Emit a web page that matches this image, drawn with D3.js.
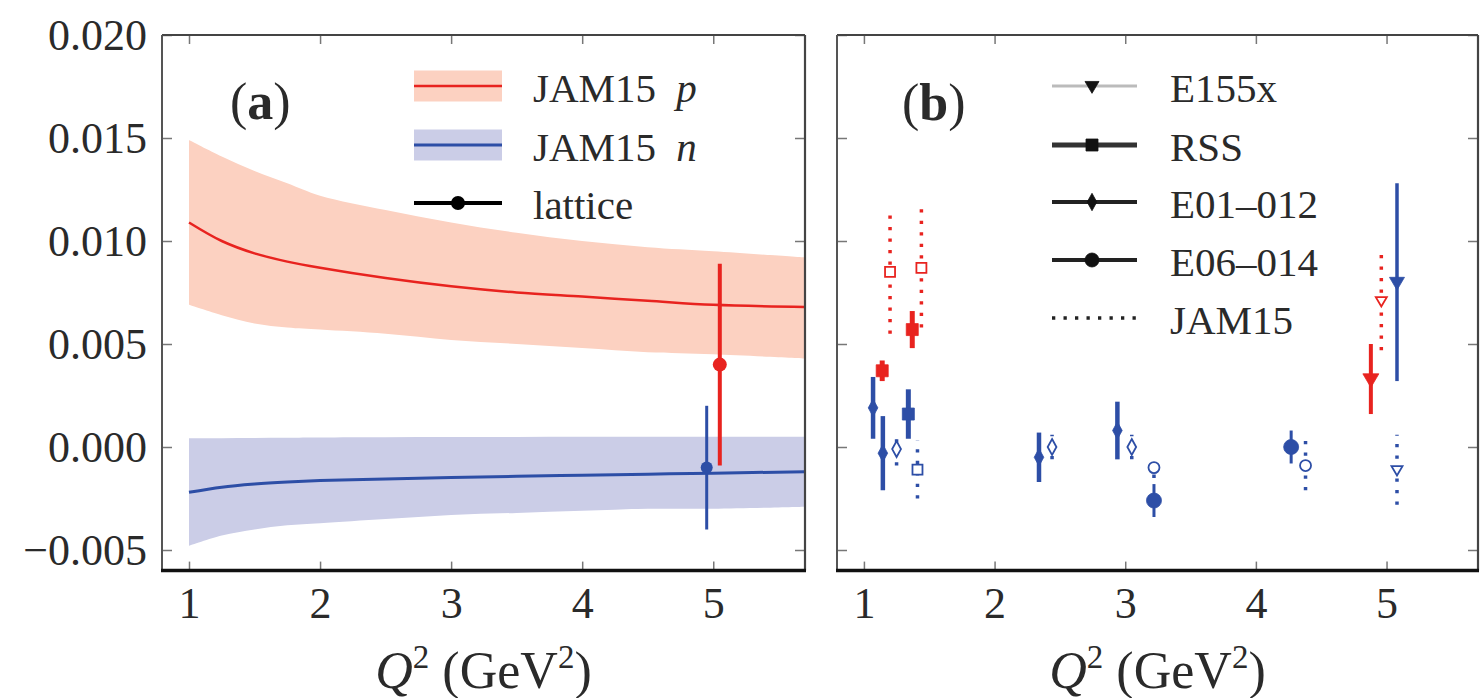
<!DOCTYPE html>
<html>
<head>
<meta charset="utf-8">
<script src="https://cdn.jsdelivr.net/npm/d3@7"></script>
<style>
  body { margin: 0; background: #fff; }
</style>
</head>
<body>
<svg id="fig" width="1480" height="698"></svg>
<script>
// ---- JAM15 bands for g2 moments (panel a) ----
const qGrid    = [1.0, 1.25, 1.5, 1.75, 2.0, 2.5, 3.0, 3.5, 4.0, 4.5, 5.0, 5.7];
const pCentral = [0.0109, 0.0100, 0.0094, 0.0090, 0.0087, 0.0082, 0.0078, 0.0075, 0.0073, 0.0071, 0.0069, 0.0068];
const pUpper   = [0.0149, 0.0141, 0.0134, 0.0128, 0.0122, 0.0115, 0.0109, 0.0104, 0.0100, 0.0097, 0.0095, 0.0092];
const pLower   = [0.0069, 0.0064, 0.0060, 0.0058, 0.0057, 0.0055, 0.0052, 0.0050, 0.0048, 0.0046, 0.0045, 0.0043];
const nCentral = [-0.0022, -0.00195, -0.0018, -0.0017, -0.00163, -0.00155, -0.00148, -0.00142, -0.00137, -0.00132, -0.00127, -0.0012];
const nUpper   = [0.00042, 0.00043, 0.00044, 0.00045, 0.00046, 0.00047, 0.00048, 0.00049, 0.0005, 0.0005, 0.0005, 0.0005];
const nLower   = [-0.0048, -0.0043, -0.0040, -0.0038, -0.0037, -0.0035, -0.0033, -0.0032, -0.0031, -0.0030, -0.0030, -0.0029];

// lattice points: [Q2, value, error]
const latticeP = [[5.05, 0.0040, 0.0049]];
const latticeN = [[4.95, -0.0010, 0.0030]];

// ---- experimental data (panel b): [Q2, value, error] ----
const e155xP   = [[4.88, 0.0033, 0.0017]];
const e155xN   = [[5.08, 0.0080, 0.0048]];
const rssP     = [[1.14, 0.0037, 0.0005], [1.37, 0.0057, 0.0009]];
const rssN     = [[1.34, 0.0016, 0.0012]];
const e01012N  = [[1.07, 0.0019, 0.0015], [1.145, -0.0003, 0.0018], [2.34, -0.0005, 0.0012], [2.94, 0.0008, 0.0014]];
const e06014N  = [[3.22, -0.0026, 0.0008], [4.27, 0.0000, 0.0008]];

// JAM15 values at the experimental kinematics
const jamRssP   = [[1.20, 0.0085, 0.0030], [1.44, 0.0087, 0.0029]];
const jamRssN   = [[1.41, -0.0011, 0.0014]];
const jamE01N   = [[1.25, -0.0001, 0.0008], [2.44, 0.0000, 0.0006], [3.05, 0.0000, 0.0006]];
const jamE06N   = [[3.22, -0.0010, 0.0005], [4.38, -0.0009, 0.0012]];
const jamE155P  = [[4.96, 0.0071, 0.0024]];
const jamE155N  = [[5.08, -0.0011, 0.0017]];

const xTicks = [1, 2, 3, 4, 5];
const yTicks = [-0.005, 0.000, 0.005, 0.010, 0.015, 0.020];
const legendA = ["JAM15", "JAM15", "lattice"];
const legendB = ["E155x", "RSS", "E01\u2013012", "E06\u2013014", "JAM15"];

const FONT = "Liberation Serif";
const TEXT_COLOR = "#2a2a2a";
const RED = "#e8231f", BLUE = "#2d4ea6";
const RED_BAND = "#fcd1c1", BLUE_BAND = "#cbcde7";

const svg = d3.select("#fig");
const plotTop = 35, plotBottom = 570.6;
const y = d3.scaleLinear().domain([-0.006, 0.020]).range([plotBottom, plotTop]);
const xDomain = [0.794, 5.70];

function styleTicks(sel) {
  sel.attr("font-family", null);
  sel.select(".domain").remove();
  sel.selectAll("line").attr("stroke", "#777").attr("stroke-width", 1.5);
  sel.selectAll("text").style("font-size", "44px");
}

function makePanel(left, right, id, showYLabels) {
  const x = d3.scaleLinear().domain(xDomain).range([left, right]);
  const g = svg.append("g");
  g.append("clipPath").attr("id", id).append("rect")
    .attr("x", left).attr("y", plotTop).attr("width", right - left).attr("height", plotBottom - plotTop);

  // tick marks point inward on all four sides; y labels only on panel a
  g.append("g").attr("transform", `translate(${left},0)`)
    .call(d3.axisLeft(y).tickValues(yTicks).tickSizeInner(-10).tickSizeOuter(0).tickPadding(15)
      .tickFormat(showYLabels ? d3.format(".3f") : ""))
    .call(styleTicks);
  g.append("g").attr("transform", `translate(${right},0)`)
    .call(d3.axisRight(y).tickValues(yTicks).tickSizeInner(-10).tickSizeOuter(0).tickFormat(""))
    .call(styleTicks);
  g.append("g").attr("transform", `translate(0,${plotBottom})`)
    .call(d3.axisBottom(x).tickValues(xTicks).tickSizeInner(-9).tickSizeOuter(0).tickPadding(16)
      .tickFormat(d3.format("d")))
    .call(styleTicks);
  g.append("g").attr("transform", `translate(0,${plotTop})`)
    .call(d3.axisTop(x).tickValues(xTicks).tickSizeInner(-9).tickSizeOuter(0).tickFormat(""))
    .call(styleTicks);

  // x label
  const xl = g.append("text").attr("x", (left + right) / 2).attr("y", 688)
    .attr("text-anchor", "middle").style("font-size", "52px");
  xl.append("tspan").attr("font-style", "italic").text("Q");
  xl.append("tspan").attr("dy", -20).style("font-size", "33px").text("2");
  xl.append("tspan").attr("dy", 20).text(" (GeV");
  xl.append("tspan").attr("dy", -20).style("font-size", "33px").text("2");
  xl.append("tspan").attr("dy", 20).text(")");

  const plot = g.append("g").attr("clip-path", `url(#${id})`);
  return { x, g, plot, left, right };
}

function drawFrame(p) {
  const fr = p.g.append("g");
  fr.append("line").attr("x1", p.left).attr("x2", p.right).attr("y1", plotTop).attr("y2", plotTop)
    .attr("stroke", "#444").attr("stroke-width", 2.2);
  fr.append("line").attr("x1", p.left).attr("x2", p.left).attr("y1", plotTop).attr("y2", plotBottom)
    .attr("stroke", "#555").attr("stroke-width", 2);
  fr.append("line").attr("x1", p.right).attr("x2", p.right).attr("y1", plotTop).attr("y2", plotBottom)
    .attr("stroke", "#444").attr("stroke-width", 2.2);
  fr.append("line").attr("x1", p.left - 1).attr("x2", p.right + 1).attr("y1", plotBottom).attr("y2", plotBottom)
    .attr("stroke", "#111").attr("stroke-width", 3.5);
}

// marker shapes
function markerPath(shape, s) {
  if (shape === "tri") return `M${-s},${-0.65 * s}L${s},${-0.65 * s}L0,${1.05 * s}Z`;
  if (shape === "sq") return `M${-s},${-s}H${s}V${s}H${-s}Z`;
  if (shape === "dia") return `M0,${-1.45 * s}L${0.8 * s},0L0,${1.45 * s}L${-0.8 * s},0Z`;
  return d3.arc()({ innerRadius: 0, outerRadius: s, startAngle: 0, endAngle: 2 * Math.PI });
}
function marker(g, shape, cx, cy, s, color, open) {
  g.append("path").attr("d", markerPath(shape, s)).attr("transform", `translate(${cx},${cy})`)
    .attr("fill", open ? "#fff" : color).attr("stroke", color).attr("stroke-width", open ? 1.8 : 0.8);
}

// ===== panel a =====
const pa = makePanel(162, 805, "clipA", true);
const curve = d3.curveCatmullRom;
const area = d3.area().x(d => pa.x(d[0])).y0(d => y(d[1])).y1(d => y(d[2])).curve(curve);
const line = d3.line().x(d => pa.x(d[0])).y(d => y(d[1])).curve(curve);
pa.plot.append("path").datum(qGrid.map((q, i) => [q, pLower[i], pUpper[i]])).attr("d", area).attr("fill", RED_BAND);
pa.plot.append("path").datum(qGrid.map((q, i) => [q, nLower[i], nUpper[i]])).attr("d", area).attr("fill", BLUE_BAND);
pa.plot.append("path").datum(qGrid.map((q, i) => [q, pCentral[i]])).attr("d", line)
  .attr("fill", "none").attr("stroke", RED).attr("stroke-width", 2.5);
pa.plot.append("path").datum(qGrid.map((q, i) => [q, nCentral[i]])).attr("d", line)
  .attr("fill", "none").attr("stroke", BLUE).attr("stroke-width", 3);

function errPoints(p, data, color, lw, r) {
  data.forEach(([q, v, e]) => {
    p.plot.append("line").attr("x1", p.x(q)).attr("x2", p.x(q)).attr("y1", y(v - e)).attr("y2", y(v + e))
      .attr("stroke", color).attr("stroke-width", lw);
    p.plot.append("circle").attr("cx", p.x(q)).attr("cy", y(v)).attr("r", r).attr("fill", color);
  });
}
errPoints(pa, latticeN, BLUE, 3, 6);
errPoints(pa, latticeP, RED, 4, 7);
drawFrame(pa);

// panel a label and legend
const la = pa.g.append("text").attr("x", 230).attr("y", 119).style("font-size", "52px");
la.append("tspan").text("(");
la.append("tspan").attr("font-weight", "bold").text("a");
la.append("tspan").text(")");

const legA = pa.g.append("g");
[[RED_BAND, RED, 86, "p"], [BLUE_BAND, BLUE, 145, "n"]].forEach(([band, col, cy, lab], i) => {
  legA.append("rect").attr("x", 414).attr("y", cy - 15.5).attr("width", 88).attr("height", 31).attr("fill", band);
  legA.append("line").attr("x1", 414).attr("x2", 502).attr("y1", cy).attr("y2", cy)
    .attr("stroke", col).attr("stroke-width", i === 0 ? 2.5 : 3);
  const t = legA.append("text").attr("x", 533).attr("y", cy + 16).style("font-size", "41px");
  t.append("tspan").text(legendA[i] + " ");
  t.append("tspan").attr("font-style", "italic").attr("dx", 10).text(lab);
});
legA.append("line").attr("x1", 414).attr("x2", 502).attr("y1", 203).attr("y2", 203)
  .attr("stroke", "#000").attr("stroke-width", 4);
legA.append("circle").attr("cx", 458).attr("cy", 203).attr("r", 7).attr("fill", "#000");
legA.append("text").attr("x", 533).attr("y", 219).style("font-size", "41px").text(legendA[2]);

// ===== panel b =====
const pb = makePanel(837, 1478, "clipB", false);

function dataSet(data, shape, color, lw, s, dotted) {
  data.forEach(([q, v, e]) => {
    const ln = pb.plot.append("line").attr("x1", pb.x(q)).attr("x2", pb.x(q))
      .attr("y1", y(v - e)).attr("y2", y(v + e)).attr("stroke", color).attr("stroke-width", lw);
    if (dotted) ln.attr("stroke-dasharray", "3.3,8.2");
    marker(pb.plot, shape, pb.x(q), y(v), s, color, dotted);
  });
}
// JAM15 values (dotted, open markers)
dataSet(jamRssP, "sq", RED, 3.5, 5, true);
dataSet(jamE155P, "tri", RED, 3.5, 5.5, true);
dataSet(jamRssN, "sq", BLUE, 3.5, 5, true);
dataSet(jamE01N, "dia", BLUE, 3.5, 5.5, true);
dataSet(jamE06N, "circ", BLUE, 3.5, 5.5, true);
dataSet(jamE155N, "tri", BLUE, 3.5, 5.5, true);
// measurements (solid, filled markers)
dataSet(e01012N, "dia", BLUE, 4.5, 6, false);
dataSet(rssN, "sq", BLUE, 5, 6, false);
dataSet(e06014N, "circ", BLUE, 3, 7.5, false);
dataSet(e155xN, "tri", BLUE, 3.5, 7.5, false);
dataSet(rssP, "sq", RED, 5, 6, false);
dataSet(e155xP, "tri", RED, 4, 8, false);
drawFrame(pb);

const lb = pb.g.append("text").attr("x", 902).attr("y", 120).style("font-size", "52px");
lb.append("tspan").text("(");
lb.append("tspan").attr("font-weight", "bold").text("b");
lb.append("tspan").text(")");

const legB = pb.g.append("g");
const rowsB = [
  { cy: 86, col: "#bbb", lw: 3, shape: "tri", s: 7 },
  { cy: 145, col: "#333", lw: 5, shape: "sq", s: 6 },
  { cy: 202, col: "#222", lw: 4, shape: "dia", s: 6 },
  { cy: 260, col: "#222", lw: 4, shape: "circ", s: 7 },
  { cy: 318, col: "#222", lw: 3.5, shape: null, s: 0 }
];
rowsB.forEach((r, i) => {
  const ln = legB.append("line").attr("x1", 1052).attr("x2", 1137).attr("y1", r.cy).attr("y2", r.cy)
    .attr("stroke", r.col).attr("stroke-width", r.lw);
  if (!r.shape) ln.attr("stroke-dasharray", "3.3,8.2");
  else marker(legB, r.shape, 1092, r.cy, r.s, "#111", false);
  legB.append("text").attr("x", 1170).attr("y", r.cy + 16).style("font-size", "41px").text(legendB[i]);
});

// serif type throughout
svg.selectAll("text").style("font-family", FONT).attr("fill", TEXT_COLOR);
</script>
</body>
</html>
